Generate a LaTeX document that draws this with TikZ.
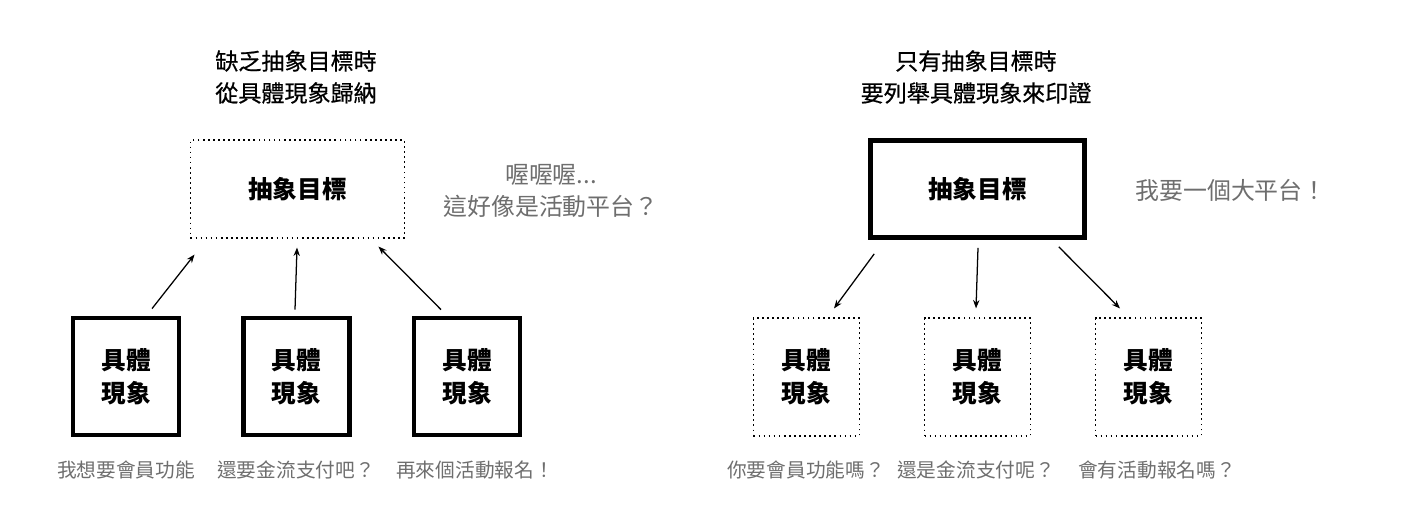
\documentclass[tikz,border=0pt]{standalone}
\usepackage{fontspec}
\setmainfont{Noto Sans CJK TC}
\newfontfamily\titlefont[FakeBold=0.6]{Noto Sans CJK TC}
\usetikzlibrary{arrows.meta}
\definecolor{notegray}{HTML}{6E6E6E}
\tikzset{
    solidbox/.style={draw, line width=3.2pt, inner sep=0pt, align=center},
    dotbox/.style={draw, line width=1.3pt, dash pattern=on 1.2pt off 2.4pt, inner sep=0pt, align=center},
    itembox/.style={minimum width=2.65cm, minimum height=2.93cm,
        font=\bfseries\fontsize{17.5}{23.5}\selectfont},
    goalbox/.style={minimum width=5.35cm, minimum height=2.43cm,
        font=\bfseries\fontsize{17.5}{23.5}\selectfont},
    titletext/.style={align=center, font=\titlefont\fontsize{16.4}{22.7}\selectfont},
    notetext/.style={align=center, text=notegray, font=\fontsize{17}{22.5}\selectfont},
    saytext/.style={text=notegray, font=\fontsize{14}{18}\selectfont},
    upflow/.style={line width=0.9pt, -{Stealth[length=6pt,width=4.5pt]}}
}
\begin{document}
\begin{tikzpicture}[x=0.025cm, y=-0.025cm]
    \useasboundingbox (0,0) rectangle (1419,524);
    % left: from concrete up to abstract
    \node[titletext] (titleL) at (296,77) {缺乏抽象目標時\\從具體現象歸納};
    \node[dotbox, goalbox] (goalL) at (297.5,189) {抽象目標};
    \node[notetext] (noteL) at (551,191) {喔喔喔...\\這好像是活動平台？};
    \node[solidbox, itembox] (itemLa) at (126,376.5) {具體\\現象};
    \node[solidbox, itembox] (itemLb) at (296.5,376.5) {具體\\現象};
    \node[solidbox, itembox] (itemLc) at (467,376.5) {具體\\現象};
    \node[saytext] (sayLa) at (126,470) {我想要會員功能};
    \node[saytext] (sayLb) at (296,470) {還要金流支付吧？};
    \node[saytext] (sayLc) at (475,470) {再來個活動報名！};
    \draw[upflow] ([shift={(26,-7)}]itemLa.north) -- ([shift={(5,16)}]goalL.south west);
    \draw[upflow] ([shift={(-1.5,-6)}]itemLb.north) -- ([shift={(-0.5,9)}]goalL.south);
    \draw[upflow] ([shift={(-26,-6)}]itemLc.north) -- ([shift={(-27,8)}]goalL.south east);
    % right: from abstract down to concrete
    \node[titletext] (titleR) at (976,77) {只有抽象目標時\\要列舉具體現象來印證};
    \node[solidbox, goalbox] (goalR) at (977.5,189) {抽象目標};
    \node[notetext] (noteR) at (1231,190) {我要一個大平台！};
    \node[dotbox, itembox] (itemRa) at (806.5,377) {具體\\現象};
    \node[dotbox, itembox] (itemRb) at (977.5,377) {具體\\現象};
    \node[dotbox, itembox] (itemRc) at (1148.5,377) {具體\\現象};
    \node[saytext] (sayRa) at (806,470) {你要會員功能嗎？};
    \node[saytext] (sayRb) at (976,470) {還是金流支付呢？};
    \node[saytext] (sayRc) at (1157,470) {會有活動報名嗎？};
    \draw[upflow] ([shift={(6,14)}]goalR.south west) -- ([shift={(27.5,-9)}]itemRa.north);
    \draw[upflow] ([shift={(0.5,8)}]goalR.south) -- ([shift={(-1.5,-9)}]itemRb.north);
    \draw[upflow] ([shift={(-28,7)}]goalR.south east) -- ([shift={(-28.5,-9)}]itemRc.north);
\end{tikzpicture}
\end{document}
